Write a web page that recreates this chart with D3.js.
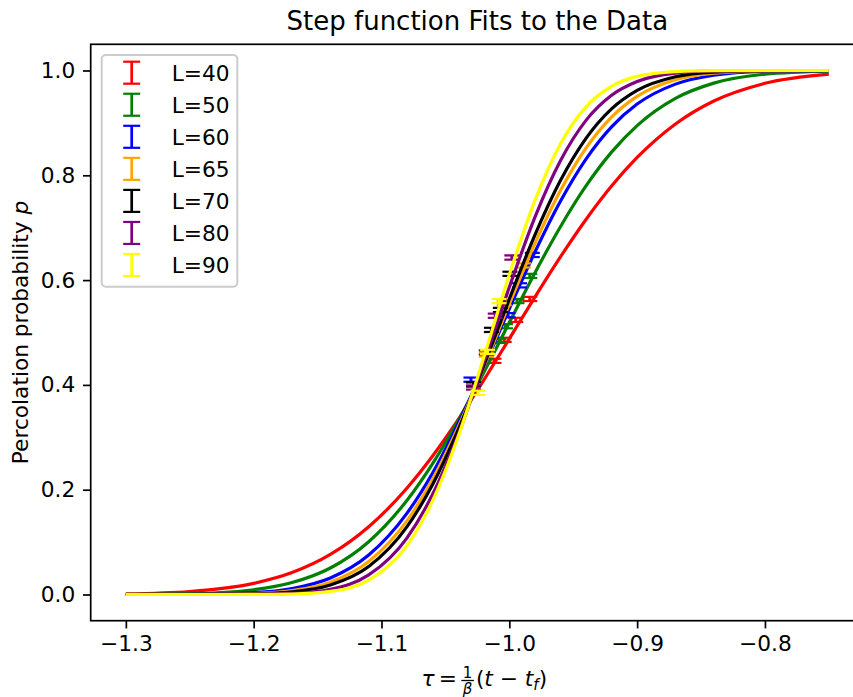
<!DOCTYPE html>
<html><head><meta charset="utf-8">
<script src="https://cdn.jsdelivr.net/npm/d3@7"></script>
<style>body{margin:0;background:#fff} svg{display:block} text{font-family:"DejaVu Sans",sans-serif}</style>
</head><body><svg id="chart" width="853" height="697"></svg>
<script>
// ---- data ----
const seriesLabels = ["L=40", "L=50", "L=60", "L=65", "L=70", "L=80", "L=90"];
const seriesColors = ["#ff0000", "#008000", "#0000ff", "#ffa500", "#000000", "#800080", "#ffff00"];

// fitted step-function curves at these tau values
const tauGrid = [-1.30, -1.25, -1.20, -1.17, -1.14, -1.11, -1.08, -1.06, -1.04, -1.02, -1.00, -0.98, -0.96, -0.94, -0.92, -0.90, -0.87, -0.84, -0.80, -0.75];
const fitL40 = [0.0012, 0.0057, 0.0212, 0.0418, 0.0764, 0.1292, 0.2033, 0.2643, 0.3336, 0.4090, 0.4880, 0.5675, 0.6443, 0.7157, 0.7794, 0.8340, 0.8980, 0.9418, 0.9756, 0.9932];
const fitL50 = [0.0002, 0.0015, 0.0091, 0.0228, 0.0506, 0.1008, 0.1799, 0.2499, 0.3322, 0.4235, 0.5191, 0.6137, 0.7019, 0.7797, 0.8442, 0.8949, 0.9468, 0.9759, 0.9930, 0.9989];
const fitL60 = [0.0000, 0.0003, 0.0035, 0.0113, 0.0315, 0.0754, 0.1553, 0.2320, 0.3260, 0.4329, 0.5450, 0.6532, 0.7505, 0.8310, 0.8924, 0.9359, 0.9740, 0.9910, 0.9983, 0.9999];
const fitL65 = [0.0000, 0.0001, 0.0019, 0.0074, 0.0236, 0.0630, 0.1410, 0.2198, 0.3193, 0.4337, 0.5542, 0.6697, 0.7710, 0.8520, 0.9112, 0.9507, 0.9824, 0.9948, 0.9992, 1.0000];
const fitL70 = [0.0000, 0.0001, 0.0011, 0.0049, 0.0180, 0.0534, 0.1295, 0.2101, 0.3142, 0.4360, 0.5640, 0.6858, 0.7899, 0.8705, 0.9267, 0.9620, 0.9880, 0.9969, 0.9997, 1.0000];
const fitL80 = [0.0000, 0.0000, 0.0003, 0.0020, 0.0100, 0.0374, 0.1082, 0.1913, 0.3054, 0.4423, 0.5863, 0.7197, 0.8277, 0.9048, 0.9528, 0.9791, 0.9951, 0.9991, 1.0000, 1.0000];
const fitL90 = [0.0000, 0.0000, 0.0001, 0.0009, 0.0059, 0.0274, 0.0934, 0.1788, 0.3015, 0.4522, 0.6103, 0.7517, 0.8599, 0.9306, 0.9699, 0.9887, 0.9980, 0.9997, 1.0000, 1.0000];

// measured data points with error bars
const ptTauL40 = [-1.012, -1.004, -0.995, -0.984];
const ptPL40   = [0.446, 0.486, 0.524, 0.564];
const ptErrL40 = [0.004, 0.004, 0.004, 0.004];
const ptTauL50 = [-1.008, -1.003, -0.994, -0.984];
const ptPL50   = [0.484, 0.512, 0.560, 0.608];
const ptErrL50 = [0.004, 0.004, 0.004, 0.004];
const ptTauL60 = [-1.030, -1.001, -0.992, -0.982];
const ptPL60   = [0.410, 0.533, 0.590, 0.648];
const ptErrL60 = [0.004, 0.004, 0.004, 0.004];
const ptTauL65 = [-1.028, -1.018, -1.004, -0.989];
const ptPL65   = [0.400, 0.458, 0.556, 0.628];
const ptErrL65 = [0.004, 0.004, 0.004, 0.004];
const ptTauL70 = [-1.028, -1.014, -1.007, -0.9995];
const ptPL70   = [0.401, 0.505, 0.543, 0.612];
const ptErrL70 = [0.004, 0.004, 0.004, 0.004];
const ptTauL80 = [-1.028, -1.018, -1.011, -0.998];
const ptPL80   = [0.395, 0.462, 0.532, 0.643];
const ptErrL80 = [0.004, 0.004, 0.004, 0.004];
const ptTauL90 = [-1.0245, -1.017, -1.008];
const ptPL90   = [0.385, 0.463, 0.560];
const ptErrL90 = [0.004, 0.004, 0.004];

const xTickValues = [-1.3, -1.2, -1.1, -1.0, -0.9, -0.8];
const yTickValues = [0.0, 0.2, 0.4, 0.6, 0.8, 1.0];
const xDomain = [-1.3275, -0.7225];
const yDomain = [-0.05, 1.05];

const titleText = "Step function Fits to the Data";

// ---- build ----
const fits = [fitL40, fitL50, fitL60, fitL65, fitL70, fitL80, fitL90];
const pts = [
  [ptTauL40, ptPL40, ptErrL40], [ptTauL50, ptPL50, ptErrL50], [ptTauL60, ptPL60, ptErrL60],
  [ptTauL65, ptPL65, ptErrL65], [ptTauL70, ptPL70, ptErrL70], [ptTauL80, ptPL80, ptErrL80],
  [ptTauL90, ptPL90, ptErrL90]
];

const svg = d3.select("#chart");
const axL = 90.7, axR = 864, axT = 44.3, axB = 620.7;
const fs = 21.7;
const x = d3.scaleLinear().domain(xDomain).range([axL, axR]);
const y = d3.scaleLinear().domain(yDomain).range([axB, axT]);

svg.append("defs").append("clipPath").attr("id", "clip")
  .append("rect").attr("x", axL).attr("y", axT).attr("width", axR - axL).attr("height", axB - axT);

const plot = svg.append("g").attr("clip-path", "url(#clip)");
const line = d3.line().x(d => x(d[0])).y(d => y(d[1])).curve(d3.curveMonotoneX);
const capHalf = 7.5;

seriesLabels.forEach((lab, i) => {
  const c = seriesColors[i];
  const [tx, py, er] = pts[i];
  const g = plot.append("g");
  tx.forEach((t, j) => {
    const cx = x(t);
    g.append("line").attr("x1", cx).attr("x2", cx).attr("y1", y(py[j] - er[j])).attr("y2", y(py[j] + er[j]))
      .attr("stroke", c).attr("stroke-width", 3);
    [py[j] - er[j], py[j] + er[j]].forEach(v => {
      g.append("line").attr("x1", cx - capHalf).attr("x2", cx + capHalf).attr("y1", y(v)).attr("y2", y(v))
        .attr("stroke", c).attr("stroke-width", 2.2);
    });
  });
  const data = tauGrid.map((t, k) => [t, fits[i][k]]);
  plot.append("path").datum(data).attr("d", line).attr("fill", "none")
    .attr("stroke", c).attr("stroke-width", 3.2).attr("stroke-linejoin", "round").attr("stroke-linecap", "butt");
});

// axes
const fmt = d3.format(".1f");
const xAxis = svg.append("g").attr("transform", `translate(0,${axB})`)
  .call(d3.axisBottom(x).tickValues(xTickValues).tickFormat(fmt).tickSizeInner(7.7).tickSizeOuter(0).tickPadding(7.7));
const yAxis = svg.append("g").attr("transform", `translate(${axL},0)`)
  .call(d3.axisLeft(y).tickValues(yTickValues).tickFormat(fmt).tickSizeInner(7.7).tickSizeOuter(0).tickPadding(7.7));
[xAxis, yAxis].forEach(a => {
  a.select(".domain").remove();
  a.attr("font-size", null).attr("font-family", null);
  a.selectAll("text").attr("font-size", fs).attr("fill", "#000").style("font-family", "'DejaVu Sans'");
  a.selectAll("line").attr("stroke", "#000").attr("stroke-width", 1.7);
});

// frame
svg.append("rect").attr("x", axL).attr("y", axT).attr("width", axR - axL).attr("height", axB - axT)
  .attr("fill", "none").attr("stroke", "#000").attr("stroke-width", 1.7);

// title
svg.append("text").attr("x", (axL + axR) / 2).attr("y", 30).attr("text-anchor", "middle")
  .attr("font-size", 26).text(titleText);

// y label
const yl = svg.append("text").attr("transform", `translate(28,${(axT + axB) / 2}) rotate(-90)`)
  .attr("text-anchor", "middle").attr("font-size", fs);
yl.append("tspan").text("Percolation probability ");
yl.append("tspan").attr("font-style", "italic").text("p");

// x label: tau = (1/beta)(t - t_f), one text element with positioned tspans
const base = 686, fsz = 15;
function measure(str, size, italic) {
  const t = svg.append("text").attr("font-size", size).attr("font-style", italic ? "italic" : "normal").text(str);
  const w = t.node().getComputedTextLength(); t.remove(); return w;
}
const wTau = measure("τ", fs, true);
const wEq = measure("\u2009=\u2009", fs, false);
const fw = Math.max(measure("1", fsz, false), measure("β", fsz, true)) + 3;
const wOpen = measure("(", fs, false), wT = measure("t", fs, true), wMinus = measure(" \u2212 ", fs, false);
const wF = measure("f", fsz, true), wClose = measure(")", fs, false);
const total = wTau + wEq + fw + 2 + wOpen + wT + wMinus + wT + wF + wClose;
const x0 = (axL + axR) / 2 - total / 2;
const fc = x0 + wTau + wEq + fw / 2;
const xl = svg.append("text").attr("font-size", fs).attr("y", base);
xl.append("tspan").attr("x", x0).attr("y", base).attr("font-style", "italic").text("τ");
xl.append("tspan").text("\u2009=\u2009");
xl.append("tspan").attr("x", fc).attr("y", base - 8.5).attr("font-size", fsz).attr("text-anchor", "middle").text("1");
xl.append("tspan").attr("x", fc).attr("y", base + 8).attr("font-size", fsz).attr("font-style", "italic").attr("text-anchor", "middle").text("β");
const p2x = x0 + wTau + wEq + fw + 2;
xl.append("tspan").attr("x", p2x).attr("y", base).text("(");
xl.append("tspan").attr("font-style", "italic").text("t");
xl.append("tspan").text(" \u2212 ");
xl.append("tspan").attr("font-style", "italic").text("t");
xl.append("tspan").attr("font-style", "italic").attr("font-size", fsz).attr("dy", 3.5).text("f");
xl.append("tspan").attr("dy", -3.5).text(")");
svg.append("line").attr("x1", fc - fw / 2).attr("x2", fc + fw / 2).attr("y1", base - 5.5).attr("y2", base - 5.5)
  .attr("stroke", "#000").attr("stroke-width", 1.3);

// legend
const lg = svg.append("g");
lg.append("rect").attr("x", 101.7).attr("y", 55).attr("width", 135.6).attr("height", 231.7).attr("rx", 4)
  .attr("fill", "#fff").attr("fill-opacity", 0.8).attr("stroke", "#cccccc").attr("stroke-width", 2);
seriesLabels.forEach((lab, i) => {
  const cy = 72.7 + i * 32.05, cx = 131.7, c = seriesColors[i];
  lg.append("line").attr("x1", cx).attr("x2", cx).attr("y1", cy - 11).attr("y2", cy + 11).attr("stroke", c).attr("stroke-width", 2.7);
  [cy - 11, cy + 11].forEach(v => lg.append("line").attr("x1", cx - 8.5).attr("x2", cx + 8.5).attr("y1", v).attr("y2", v)
    .attr("stroke", c).attr("stroke-width", 2.2));
  lg.append("text").attr("x", 171.7).attr("y", cy + 8).attr("font-size", fs).text(lab);
});
</script></body></html>
